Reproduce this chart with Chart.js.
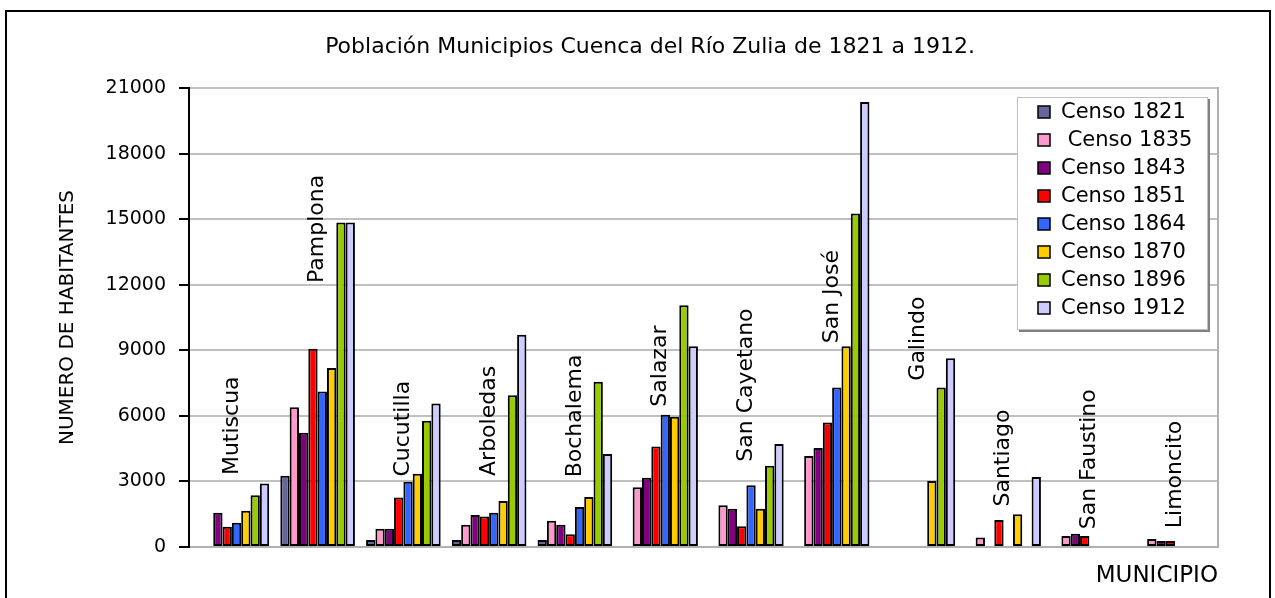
<!DOCTYPE html>
<html>
<head>
<meta charset="utf-8">
<script src="https://cdn.jsdelivr.net/npm/chart.js@4.4.0/dist/chart.umd.min.js"></script>
<style>
  html, body { margin: 0; padding: 0; background: #fff; }
</style>
</head>
<body>
<canvas id="grafica" width="1275" height="598"></canvas>
<script>
const titulo = 'Población Municipios Cuenca del Río Zulia de 1821 a 1912.';
const municipios = ['Mutiscua', 'Pamplona', 'Cucutilla', 'Arboledas', 'Bochalema', 'Salazar',
  'San Cayetano', 'San José', 'Galindo', 'Santiago', 'San Faustino', 'Limoncito'];

// valores, null = sin dato
const censo1821 = [null, 3260, 320, 320, 320, null, null, null, null, null, null, null];
const censo1835 = [null, 6390, 840, 1020, 1200, 2730, 1910, 4160, null, 430, 500, 370];
const censo1843 = [1570, 5230, 840, 1460, 1020, 3170, 1750, 4530, null, null, 610, 270];
const censo1851 = [930, 9070, 2270, 1390, 580, 4600, 950, 5700, null, 1240, 500, 270];
const censo1864 = [1110, 7120, 2990, 1570, 1830, 6050, 2820, 7300, null, null, null, null];
const censo1870 = [1660, 8190, 3350, 2100, 2290, 5960, 1750, 9180, 3020, 1500, null, null];
const censo1896 = [2370, 14850, 5780, 6940, 7560, 11060, 3720, 15260, 7300, null, null, null];
const censo1912 = [2910, 14850, 6560, 9710, 4250, 9180, 4710, 20360, 8630, 3200, null, null];

const etiquetasCenso = ['Censo 1821', ' Censo 1835', 'Censo 1843', 'Censo 1851',
  'Censo 1864', 'Censo 1870', 'Censo 1896', 'Censo 1912'];
const colores = ['#666699', '#FF99CC', '#800080', '#FF0000', '#3366FF', '#FFCC00', '#99CC00', '#CCCCFF'];

// altura (en habitantes) donde empieza el nombre de cada municipio
const alturaNombre = [3290, 12080, 3220, 3250, 3190, 6420, 3900, 9320, 7610, 1850, 810, 860];

const fuente = 'DejaVu Sans';
const series = [censo1821, censo1835, censo1843, censo1851, censo1864, censo1870, censo1896, censo1912];

const marcoYTextos = {
  id: 'marcoYTextos',
  beforeDraw(chart) {
    const ctx = chart.ctx;
    ctx.save();
    ctx.fillStyle = '#fff';
    ctx.fillRect(0, 0, chart.width, chart.height);
    ctx.strokeStyle = '#000';
    ctx.lineWidth = 2;
    ctx.strokeRect(6, 11, 1264, 700);
    ctx.restore();
  },
  afterDatasetsDraw(chart) {
    const ctx = chart.ctx;
    const xs = chart.scales.x;
    const ys = chart.scales.y;
    const a = chart.chartArea;

    // nombres de municipios, verticales
    ctx.save();
    ctx.fillStyle = '#000';
    ctx.font = '22px "' + fuente + '"';
    ctx.textAlign = 'left';
    ctx.textBaseline = 'middle';
    municipios.forEach((m, i) => {
      ctx.save();
      ctx.translate(xs.getPixelForValue(i), ys.getPixelForValue(alturaNombre[i]));
      ctx.rotate(-Math.PI / 2);
      ctx.fillText(m, 0, 0);
      ctx.restore();
    });
    ctx.restore();

    // leyenda
    const lx = a.right - 201, ly = a.top + 9, lw = 191, lh = 233;
    ctx.save();
    ctx.fillStyle = '#808080';
    ctx.fillRect(lx + 2, ly + 2, lw, lh);
    ctx.fillStyle = '#fff';
    ctx.fillRect(lx, ly, lw, lh);
    ctx.strokeStyle = '#c0c0c0';
    ctx.lineWidth = 1;
    ctx.strokeRect(lx + 0.5, ly + 0.5, lw - 1, lh - 1);
    ctx.font = '21px "' + fuente + '"';
    ctx.textBaseline = 'middle';
    ctx.textAlign = 'left';
    chart.data.datasets.forEach((d, i) => {
      const cy = ly + 15 + i * 28;
      ctx.fillStyle = d.backgroundColor;
      ctx.fillRect(lx + 21, cy - 6, 12, 12);
      ctx.strokeStyle = '#000';
      ctx.lineWidth = 1.5;
      ctx.strokeRect(lx + 21, cy - 6, 12, 12);
      ctx.fillStyle = '#000';
      ctx.fillText(d.label, lx + 44, cy + 1);
    });
    ctx.restore();
  }
};

new Chart(document.getElementById('grafica'), {
  type: 'bar',
  data: {
    labels: municipios,
    datasets: series.map((s, i) => ({
      label: etiquetasCenso[i],
      data: s,
      backgroundColor: colores[i],
      borderColor: '#000',
      borderWidth: 2,
      borderSkipped: false,
      categoryPercentage: 0.87,
      barPercentage: 1
    }))
  },
  options: {
    responsive: false,
    animation: false,
    devicePixelRatio: 1,
    layout: { padding: { left: 25, right: 0, top: 0, bottom: 0 } },
    plugins: {
      legend: { display: false },
      tooltip: { enabled: false },
      title: {
        display: true,
        text: titulo,
        color: '#000',
        font: { family: fuente, size: 22, weight: 'normal', lineHeight: 1 },
        padding: { top: 36, bottom: 30 }
      }
    },
    scales: {
      x: {
        offset: true,
        grid: { display: false, drawTicks: false },
        border: { color: '#b0b0b0', width: 2 },
        ticks: { display: false },
        title: {
          display: true,
          text: 'MUNICIPIO',
          align: 'end',
          color: '#000',
          font: { family: fuente, size: 23, lineHeight: 1.2 },
          padding: { top: 0, bottom: 8 }
        },
        afterFit: (s) => { s.height = 51; }
      },
      y: {
        min: 0,
        max: 21000,
        ticks: {
          stepSize: 3000,
          color: '#000',
          padding: 13,
          font: { family: fuente, size: 19 },
          callback: (v) => String(v)
        },
        grid: { color: '#c0c0c0', lineWidth: 2, tickColor: '#000', tickLength: 10, tickWidth: 2 },
        border: { color: '#000', width: 2 },
        title: {
          display: true,
          text: 'NUMERO DE HABITANTES',
          color: '#000',
          font: { family: fuente, size: 20, lineHeight: 1.2 },
          padding: { top: 31, bottom: 0 }
        },
        afterFit: (s) => { s.width = 164; }
      },
      // borde derecho del area de trazado
      borde: {
        type: 'linear',
        position: 'right',
        min: 0,
        max: 21000,
        grid: { drawOnChartArea: false, drawTicks: false },
        ticks: { display: false },
        border: { color: '#b0b0b0', width: 2 },
        afterFit: (s) => { s.width = 57; }
      }
    }
  },
  plugins: [marcoYTextos]
});
</script>
</body>
</html>
